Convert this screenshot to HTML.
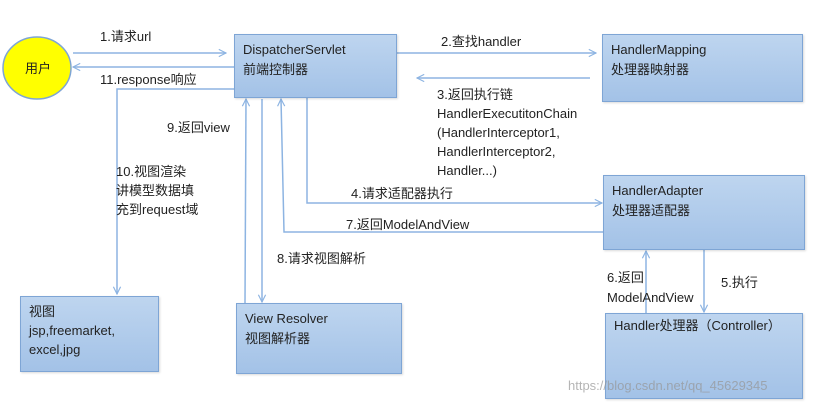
<!DOCTYPE html>
<html><head><meta charset="utf-8"><style>
body{margin:0;background:#fff;width:819px;height:404px;overflow:hidden;position:relative;font-family:"Liberation Sans","Noto Sans CJK SC",sans-serif;}
.b{position:absolute;box-sizing:border-box;border:1.5px solid #7ea5d5;background:linear-gradient(#bed5ef,#a3c2e7);box-shadow:1px 1px 2px rgba(0,0,0,0.15);font-size:13px;color:#222;padding:5px 8px;line-height:20px;}
.t{position:absolute;font-size:13px;color:#222;line-height:19px;white-space:nowrap;}
</style></head><body>
<svg width="819" height="404" style="position:absolute;left:0;top:0">
<defs><marker id="a" viewBox="0 0 10 10" refX="9" refY="5" markerWidth="9" markerHeight="9" orient="auto" markerUnits="userSpaceOnUse"><path d="M1,1 L9,5 L1,9" fill="none" stroke="#8db4e2" stroke-width="1.3"/></marker></defs>
<g stroke="#8db4e2" stroke-width="1.5" fill="none">
<ellipse cx="37" cy="68" rx="34" ry="31" fill="#ffff00" stroke="#7ea5d5"/>
<line x1="73" y1="53" x2="226" y2="53" marker-end="url(#a)"/>
<line x1="234" y1="67" x2="73" y2="67" marker-end="url(#a)"/>
<polyline points="234,89 117,89 117,294" marker-end="url(#a)"/>
<line x1="245" y1="303" x2="246" y2="99" marker-end="url(#a)"/>
<line x1="262" y1="99" x2="262" y2="302" marker-end="url(#a)"/>
<polyline points="603,232 284,232 281,99" marker-end="url(#a)"/>
<polyline points="307,92 307,203 602,203" marker-end="url(#a)"/>
<line x1="397" y1="53" x2="596" y2="53" marker-end="url(#a)"/>
<line x1="590" y1="78" x2="417" y2="78" marker-end="url(#a)"/>
<line x1="646" y1="313" x2="646" y2="251" marker-end="url(#a)"/>
<line x1="704" y1="250" x2="704" y2="312" marker-end="url(#a)"/>
</g>
<text x="25" y="73" font-size="13" fill="#222" font-family="Liberation Sans,Noto Sans CJK SC,sans-serif">用户</text>
</svg>
<div class="b" style="left:234px;top:34px;width:163px;height:64px">DispatcherServlet<br>前端控制器</div>
<div class="b" style="left:602px;top:34px;width:201px;height:68px">HandlerMapping<br>处理器映射器</div>
<div class="b" style="left:603px;top:175px;width:202px;height:75px">HandlerAdapter<br>处理器适配器</div>
<div class="b" style="left:20px;top:296px;width:139px;height:76px;line-height:19px">视图<br>jsp,freemarket,<br>excel,jpg</div>
<div class="b" style="left:236px;top:303px;width:166px;height:71px">View Resolver<br>视图解析器</div>
<div class="b" style="left:605px;top:313px;width:198px;height:86px;padding-top:2px">Handler处理器（Controller）</div>
<div class="t" style="left:100px;top:27px">1.请求url</div>
<div class="t" style="left:100px;top:70px">11.response响应</div>
<div class="t" style="left:167px;top:118px">9.返回view</div>
<div class="t" style="left:116px;top:162px">10.视图渲染<br>讲模型数据填<br>充到request域</div>
<div class="t" style="left:441px;top:32px">2.查找handler</div>
<div class="t" style="left:437px;top:85px">3.返回执行链<br>HandlerExecutitonChain<br>(HandlerInterceptor1,<br>HandlerInterceptor2,<br>Handler...)</div>
<div class="t" style="left:351px;top:184px">4.请求适配器执行</div>
<div class="t" style="left:346px;top:215px">7.返回ModelAndView</div>
<div class="t" style="left:277px;top:249px">8.请求视图解析</div>
<div class="t" style="left:607px;top:268px;line-height:20px">6.返回<br>ModelAndView</div>
<div class="t" style="left:721px;top:273px">5.执行</div>
<div class="t" style="left:568px;top:376px;color:rgba(150,150,150,0.7);font-size:13px">https://blog.csdn.net/qq_45629345</div>
</body></html>
